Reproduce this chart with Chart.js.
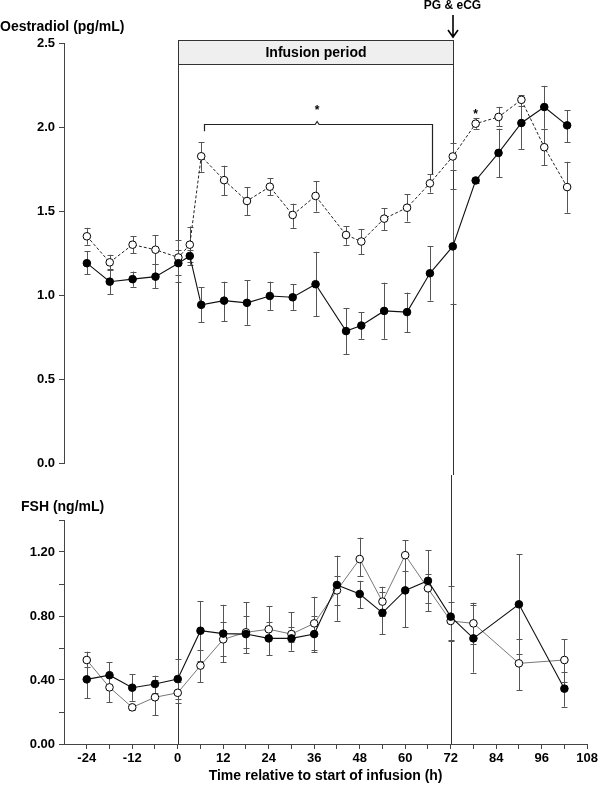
<!DOCTYPE html>
<html>
<head>
<meta charset="utf-8">
<script src="https://cdn.jsdelivr.net/npm/chart.js@4/dist/chart.umd.min.js"></script>
<style>
  html, body { margin: 0; padding: 0; background: #fff; }
  #wrap { position: relative; width: 600px; height: 786px; }
  canvas { position: absolute; left: 0; }
  #cTop { top: 0; }
  #cBot { top: 475px; }
</style>
</head>
<body>
<div id="wrap">
  <canvas id="cTop" width="600" height="475"></canvas>
  <canvas id="cBot" width="600" height="311"></canvas>
</div>
<script>
// ---------- DATA ----------
// Oestradiol (pg/mL)
const e2Times = [-24, -18, -12, -6, 0, 3, 6, 12, 18, 24, 30, 36, 44, 48, 54, 60, 66, 72, 78, 84, 90, 96, 102];
const e2Filled      = [1.19, 1.08, 1.095, 1.11, 1.19, 1.233, 0.942, 0.967, 0.954, 0.995, 0.987, 1.065, 0.786, 0.819, 0.906, 0.899, 1.13, 1.29, 1.682, 1.846, 2.024, 2.119, 2.01];
const e2FilledUpper = [1.26, 1.155, 1.14, 1.185, 1.27, 1.27, 1.047, 1.08, 1.088, 1.08, 1.066, 1.258, 0.922, 0.899, 1.074, 1.015, 1.29, 1.63, 1.70, 1.99, 2.17, 2.245, 2.10];
const e2FilledLower = [1.125, 1.007, 1.05, 1.04, 1.08, 1.18, 0.84, 0.845, 0.823, 0.912, 0.912, 0.875, 0.65, 0.74, 0.74, 0.78, 0.967, 0.95, 1.665, 1.70, 1.87, 1.99, 1.91];
const e2Open        = [1.35, 1.195, 1.30, 1.27, 1.224, 1.30, 1.826, 1.684, 1.56, 1.645, 1.477, 1.59, 1.358, 1.319, 1.455, 1.52, 1.665, 1.825, 2.02, 2.06, 2.162, 1.88, 1.643];
const e2OpenUpper   = [1.40, 1.24, 1.35, 1.356, 1.33, 1.408, 1.91, 1.77, 1.643, 1.696, 1.544, 1.678, 1.41, 1.394, 1.517, 1.60, 1.718, 1.906, 2.054, 2.12, 2.19, 1.99, 1.793];
const e2OpenLower   = [1.30, 1.15, 1.25, 1.185, 1.12, 1.20, 1.734, 1.594, 1.477, 1.594, 1.40, 1.497, 1.30, 1.244, 1.388, 1.438, 1.61, 1.744, 1.99, 2.004, 2.127, 1.773, 1.49];

// FSH (ng/mL)
const fshTimes = [-24, -18, -12, -6, 0, 6, 12, 18, 24, 30, 36, 42, 48, 54, 60, 66, 72, 78, 90, 102];
const fshFilled      = [0.404, 0.43, 0.352, 0.375, 0.406, 0.708, 0.69, 0.687, 0.66, 0.66, 0.687, 0.994, 0.9375, 0.82, 0.96, 1.02, 0.796, 0.66, 0.873, 0.346];
const fshFilledUpper = [0.52, 0.51, 0.436, 0.427, 0.53, 0.894, 0.87, 0.885, 0.862, 0.823, 0.80, 1.177, 1.02, 0.95, 1.19, 1.21, 0.99, 0.87, 1.186, 0.45];
const fshFilledLower = [0.286, 0.35, 0.27, 0.32, 0.28, 0.52, 0.51, 0.567, 0.556, 0.583, 0.573, 0.77, 0.848, 0.687, 0.73, 0.83, 0.646, 0.446, 0.56, 0.233];
const fshOpen        = [0.525, 0.354, 0.229, 0.292, 0.32, 0.49, 0.654, 0.698, 0.717, 0.687, 0.754, 0.96, 1.156, 0.89, 1.18, 0.973, 0.769, 0.754, 0.504, 0.525];
const fshOpenUpper   = [0.577, 0.44, 0.24, 0.40, 0.39, 0.587, 0.76, 0.80, 0.76, 0.73, 0.92, 1.05, 1.29, 0.983, 1.273, 1.06, 0.89, 0.883, 0.654, 0.654];
const fshOpenLower   = [0.483, 0.26, 0.21, 0.18, 0.254, 0.385, 0.55, 0.60, 0.67, 0.64, 0.59, 0.87, 1.05, 0.80, 1.08, 0.88, 0.65, 0.625, 0.3375, 0.39];

const xTickValues = [-24, -18, -12, -6, 0, 6, 12, 18, 24, 30, 36, 42, 48, 54, 60, 66, 72, 78, 84, 90, 96, 102, 108];
const fshTickValues = [0, 0.2, 0.4, 0.6, 0.8, 1.0, 1.2, 1.4];
const infusionStart = 0, infusionEnd = 72;

// ---------- HELPERS ----------
const FONT = '"Liberation Sans", Arial, Helvetica, sans-serif';
const AXIS = '#444';
function pts(xs, ys) { return xs.map((x, i) => ({ x: x, y: ys[i] })); }

function drawErrorBars(chart) {
  const ctx = chart.ctx, xs = chart.scales.x, ys = chart.scales.y;
  ctx.save();
  ctx.strokeStyle = '#555';
  ctx.lineWidth = 1;
  chart.data.datasets.forEach(ds => {
    if (!ds.upper) return;
    ds.data.forEach((p, i) => {
      const px = Math.round(xs.getPixelForValue(p.x)) + 0.5;
      const yt = ys.getPixelForValue(ds.upper[i]);
      const yb = ys.getPixelForValue(ds.lower[i]);
      ctx.beginPath();
      ctx.moveTo(px, yt); ctx.lineTo(px, yb);
      ctx.moveTo(px - 3, Math.round(yt) + 0.5); ctx.lineTo(px + 3, Math.round(yt) + 0.5);
      ctx.moveTo(px - 3, Math.round(yb) + 0.5); ctx.lineTo(px + 3, Math.round(yb) + 0.5);
      ctx.stroke();
    });
  });
  ctx.restore();
}

const topPlugin = {
  id: 'topDecor',
  beforeDatasetsDraw(chart) {
    const ctx = chart.ctx, xs = chart.scales.x, ys = chart.scales.y;
    const x0 = Math.round(xs.getPixelForValue(infusionStart)) + 0.5;
    const x72 = Math.round(xs.getPixelForValue(infusionEnd)) + 0.5;
    ctx.save();
    // infusion box
    ctx.fillStyle = '#efefef';
    ctx.fillRect(x0, 40.5, x72 - x0, 24);
    ctx.strokeStyle = '#333';
    ctx.lineWidth = 1;
    ctx.strokeRect(x0, 40.5, x72 - x0, 24);
    // vertical lines
    ctx.beginPath();
    ctx.moveTo(x0, 40); ctx.lineTo(x0, chart.height);
    ctx.moveTo(x72, 40); ctx.lineTo(x72, chart.height);
    ctx.stroke();
    // texts
    ctx.fillStyle = '#000';
    ctx.font = 'bold 14px ' + FONT;
    ctx.textAlign = 'center'; ctx.textBaseline = 'middle';
    ctx.fillText('Infusion period', (x0 + x72) / 2, 53);
    ctx.textAlign = 'left';
    ctx.fillText('Oestradiol (pg/mL)', 0, 27);
    ctx.font = 'bold 12px ' + FONT;
    ctx.textAlign = 'center';
    ctx.fillText('PG & eCG', x72 - 1, 6);
    // arrow
    ctx.lineWidth = 1.6;
    ctx.strokeStyle = '#000';
    ctx.beginPath();
    ctx.moveTo(x72 - 0.5, 15); ctx.lineTo(x72 - 0.5, 37);
    ctx.moveTo(x72 - 5.5, 30); ctx.lineTo(x72 - 0.5, 37); ctx.lineTo(x72 + 4.5, 30);
    ctx.stroke();
    // significance bracket
    const bl = Math.round(xs.getPixelForValue(6.7)) + 0.5;
    const br = Math.round(xs.getPixelForValue(66.5)) + 0.5;
    const bm = xs.getPixelForValue(36.4);
    const by = Math.round(ys.getPixelForValue(2.02)) + 0.5;
    ctx.lineWidth = 1.2;
    ctx.strokeStyle = '#222';
    ctx.beginPath();
    ctx.moveTo(bl, ys.getPixelForValue(1.975));
    ctx.lineTo(bl, by);
    ctx.lineTo(bm - 2, by);
    ctx.lineTo(bm, by - 3);
    ctx.lineTo(bm + 2, by);
    ctx.lineTo(br, by);
    ctx.lineTo(br, ys.getPixelForValue(1.718));
    ctx.stroke();
    ctx.fillStyle = '#000';
    ctx.font = 'bold 12px ' + FONT;
    ctx.textBaseline = 'middle';
    ctx.fillText('*', bm, ys.getPixelForValue(2.10));
    ctx.fillText('*', xs.getPixelForValue(78), ys.getPixelForValue(2.075));
    ctx.restore();
    drawErrorBars(chart);
  }
};

const botPlugin = {
  id: 'botDecor',
  beforeDatasetsDraw(chart) {
    const ctx = chart.ctx, xs = chart.scales.x, ca = chart.chartArea;
    const x0 = Math.round(xs.getPixelForValue(infusionStart)) + 0.5;
    const x72 = Math.round(xs.getPixelForValue(infusionEnd)) + 0.5;
    ctx.save();
    ctx.strokeStyle = '#333';
    ctx.lineWidth = 1;
    ctx.beginPath();
    ctx.moveTo(x0, 0); ctx.lineTo(x0, ca.bottom);
    ctx.moveTo(x72, 0); ctx.lineTo(x72, ca.bottom);
    ctx.stroke();
    ctx.fillStyle = '#000';
    ctx.font = 'bold 14px ' + FONT;
    ctx.textBaseline = 'middle';
    ctx.textAlign = 'left';
    ctx.fillText('FSH (ng/mL)', 21, 32);
    ctx.textAlign = 'center';
    ctx.fillText('Time relative to start of infusion (h)', (ca.left + ca.right) / 2, 301);
    ctx.restore();
    drawErrorBars(chart);
  }
};

function filledDs(xs, ys, up, lo) {
  return {
    data: pts(xs, ys), upper: up, lower: lo,
    borderColor: '#111', borderWidth: 1.1,
    pointRadius: 3.8, pointBackgroundColor: '#000', pointBorderColor: '#000', pointBorderWidth: 1,
    tension: 0, order: 1
  };
}
function openDs(xs, ys, up, lo, dash, color) {
  return {
    data: pts(xs, ys), upper: up, lower: lo,
    borderColor: color, borderWidth: 1, borderDash: dash,
    pointRadius: 3.8, pointBackgroundColor: '#fff', pointBorderColor: '#000', pointBorderWidth: 1,
    pointStyle: 'circle',
    tension: 0, order: 2
  };
}

const baseOpts = {
  responsive: false, animation: false, devicePixelRatio: 1,
  plugins: { legend: { display: false }, tooltip: { enabled: false } }
};

// ---------- TOP CHART ----------
new Chart(document.getElementById('cTop'), {
  type: 'line',
  data: {
    datasets: [
      openDs(e2Times, e2Open, e2OpenUpper, e2OpenLower, [3, 2], '#222'),
      filledDs(e2Times, e2Filled, e2FilledUpper, e2FilledLower)
    ]
  },
  options: Object.assign({}, baseOpts, {
    layout: { padding: { top: 43, right: 10, bottom: 10, left: 0 } },
    scales: {
      x: { type: 'linear', min: -30, max: 108, display: false },
      y: {
        min: 0, max: 2.5,
        ticks: { stepSize: 0.5, color: '#000', padding: 4, font: { family: FONT, size: 13, weight: 'bold' },
                 callback: v => v.toFixed(1) },
        grid: { drawOnChartArea: false, drawTicks: true, tickLength: 5, color: AXIS },
        border: { display: true, color: AXIS },
        afterFit: s => { s.width = 64; }
      }
    }
  }),
  plugins: [topPlugin]
});

// ---------- BOTTOM CHART ----------
new Chart(document.getElementById('cBot'), {
  type: 'line',
  data: {
    datasets: [
      openDs(fshTimes, fshOpen, fshOpenUpper, fshOpenLower, [], '#777'),
      filledDs(fshTimes, fshFilled, fshFilledUpper, fshFilledLower)
    ]
  },
  options: Object.assign({}, baseOpts, {
    layout: { padding: { top: 45, right: 10, bottom: 0, left: 0 } },
    scales: {
      x: {
        type: 'linear', min: -30, max: 108,
        afterBuildTicks: s => { s.ticks = xTickValues.map(v => ({ value: v })); },
        ticks: { autoSkip: false, maxRotation: 0, color: '#000', padding: 2,
                 font: { family: FONT, size: 13, weight: 'bold' },
                 callback: v => (v % 12 === 0 ? String(v) : '') },
        grid: { drawOnChartArea: false, drawTicks: true, tickLength: 5, color: AXIS },
        border: { display: true, color: AXIS },
        afterFit: s => { s.height = 42; }
      },
      y: {
        min: 0, max: 1.4,
        afterBuildTicks: s => { s.ticks = fshTickValues.map(v => ({ value: v })); },
        ticks: { autoSkip: false, color: '#000', padding: 4, font: { family: FONT, size: 13, weight: 'bold' },
                 callback: (v, i) => (i % 2 === 0 ? v.toFixed(2) : '') },
        grid: { drawOnChartArea: false, drawTicks: true, tickLength: 5, color: AXIS },
        border: { display: true, color: AXIS },
        afterFit: s => { s.width = 64; }
      }
    }
  }),
  plugins: [botPlugin]
});
</script>
</body>
</html>
